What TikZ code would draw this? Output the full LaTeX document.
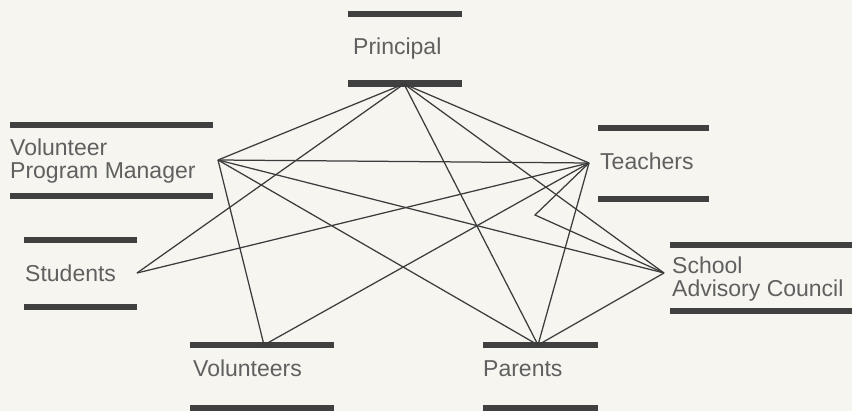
\documentclass[tikz,border=0pt]{standalone}
\usepackage{fontspec}
\setmainfont{Liberation Sans}
\definecolor{bgc}{HTML}{F6F5F0}
\definecolor{barc}{HTML}{404040}
\definecolor{linec}{HTML}{3C3C3C}
\definecolor{textc}{HTML}{606060}
\begin{document}
\begin{tikzpicture}[x=1pt,y=-1pt,
  barstyle/.style={fill=barc},
  conn/.style={draw=linec, line width=1.25pt, line join=miter},
  lab/.style={text=textc, font=\fontsize{23}{23}\selectfont, inner sep=0pt, align=left}]
\useasboundingbox (0,0) rectangle (852,411);
\fill[bgc] (0,0) rectangle (852,411);
% bars
\fill[barstyle] (348,11) rectangle (462,17.5);
\fill[barstyle] (348,80.5) rectangle (462,87);
\fill[barstyle] (10,122) rectangle (213,128.5);
\fill[barstyle] (10,193) rectangle (213,199.5);
\fill[barstyle] (598,125) rectangle (709,131.5);
\fill[barstyle] (598,196) rectangle (709,202.5);
\fill[barstyle] (24,237) rectangle (137,243.5);
\fill[barstyle] (24,304) rectangle (137,310.5);
\fill[barstyle] (670,242) rectangle (852,248.5);
\fill[barstyle] (670,308) rectangle (852,314.5);
\fill[barstyle] (190,342) rectangle (334,348.5);
\fill[barstyle] (190,405) rectangle (334,411);
\fill[barstyle] (483,342) rectangle (598,348.5);
\fill[barstyle] (483,405) rectangle (598,411);
% labels
\node[lab, anchor=base west] (lP) at (353,55) {Principal};
\node[lab, anchor=north west] (lVPM) at (10,138.5) {Volunteer\\Program Manager};
\node[lab, anchor=base west] (lT) at (600,170) {Teachers};
\node[lab, anchor=base west] (lS) at (25,282) {Students};
\node[lab, anchor=north west] (lSAC) at (672,256.5) {School\\Advisory Council};
\node[lab, anchor=base west] (lVol) at (193,377) {Volunteers};
\node[lab, anchor=base west] (lPar) at (483,377) {Parents};
% hubs
\coordinate (P) at (404,84);
\coordinate (VPM) at (218,160);
\coordinate (T) at (589,163);
\coordinate (S) at (137,273);
\coordinate (SAC) at (664,273);
\coordinate (Vol) at (264,345);
\coordinate (Par) at (538,345);
\coordinate (K) at (535,215);
% connectors
\draw[conn] (P) -- (VPM);
\draw[conn] (P) -- (T);
\draw[conn] (P) -- (SAC);
\draw[conn] (P) -- (Par);
\draw[conn] (P) -- (S);
\draw[conn] (VPM) -- (T);
\draw[conn] (VPM) -- (SAC);
\draw[conn] (VPM) -- (Par);
\draw[conn] (VPM) -- (Vol);
\draw[conn] (T) -- (S);
\draw[conn] (T) -- (Vol);
\draw[conn] (T) -- (Par);
\draw[conn] (T) -- (K) -- (SAC);
\draw[conn] (Par) -- (SAC);
\end{tikzpicture}
\end{document}
